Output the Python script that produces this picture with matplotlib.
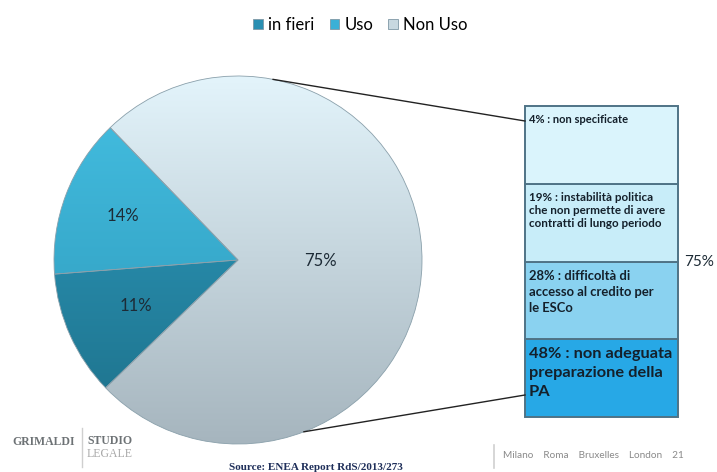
import matplotlib.pyplot as plt
import numpy as np
from matplotlib.colors import LinearSegmentedColormap

# pie data
pie_labels = ["in fieri", "Uso", "Non Uso"]
pie_values = [11, 14, 75]
pie_top_colors = ["#2f9fc4", "#45c0e3", "#e3f4fb"]
pie_bottom_colors = ["#1d7089", "#2b95b6", "#a6b5be"]

# breakdown of "Non Uso" (drawn as equal boxes, as in the original)
box_values = [48, 28, 19, 4]
box_texts = ["48% : non adeguata\npreparazione della\nPA",
             "28% : difficoltà di\naccesso al credito per\nle ESCo",
             "19% : instabilità politica\nche non permette di avere\ncontratti di lungo periodo",
             "4% : non specificate"]
box_colors = ["#27a8e6", "#8ad2f0", "#c8edf9", "#daf4fc"]
box_fontsizes = [11.8, 9.4, 8.4, 8.0]
box_linespacing = [1.45, 1.4, 1.22, 1.0]
box_total_label = "75%"

W, H = 717, 472
fig = plt.figure(figsize=(W / 100, H / 100), dpi=100)
fig.patch.set_facecolor("white")
ax = fig.add_axes([0, 0, 1, 1])
plt.rcParams["font.family"] = ["Lato", "DejaVu Sans"]

# ---- pie ----
cx, cy, r = 238, H - 260, 184
wedges, texts = ax.pie(pie_values, startangle=224, counterclock=False,
                       center=(cx, cy), radius=r,
                       wedgeprops=dict(edgecolor="#8aa0ab", linewidth=0.6))
for w, c0, c1 in zip(wedges, pie_top_colors, pie_bottom_colors):
    cmap = LinearSegmentedColormap.from_list("g", [c1, c0])
    grad = np.linspace(0, 1, 256).reshape(-1, 1)
    im = ax.imshow(grad, cmap=cmap, origin="lower", aspect="auto",
                   extent=(cx - r, cx + r, cy - r, cy + r), zorder=1)
    im.set_clip_path(w)
    w.set_facecolor("none")
    w.set_zorder(2)

label_dist = [0.61, 0.67, 0.45]
for w, v, d in zip(wedges, pie_values, label_dist):
    mid = np.deg2rad((w.theta1 + w.theta2) / 2)
    ax.text(cx + d * r * np.cos(mid), cy + d * r * np.sin(mid), f"{v}%",
            ha="center", va="center", fontsize=12, color="#1d2b36", zorder=5)

# ---- stacked box ----
bx0, bx1 = 525, 678
by0, by1 = H - 417, H - 106
seg_h = (by1 - by0) / len(box_values)
for i, (col, txt, fs, ls) in enumerate(zip(box_colors, box_texts, box_fontsizes,
                                           box_linespacing)):
    bottom = by0 + i * seg_h
    ax.bar((bx0 + bx1) / 2, seg_h, width=bx1 - bx0, bottom=bottom,
           color=col, edgecolor="#4f7386", linewidth=1.4, zorder=3)
    ax.text(bx0 + 4, bottom + seg_h - 8, txt, ha="left", va="top",
            fontsize=fs, fontweight="bold", color="#14202b",
            linespacing=ls, zorder=5)
ax.text(bx1 + 6, (by0 + by1) / 2, box_total_label, ha="left", va="center",
        fontsize=11, color="#1d2b36")

# connector lines from pie edge to box
a_top, a_bot = np.deg2rad(79), np.deg2rad(-69)
ax.plot([cx + r * np.cos(a_top), bx0], [cy + r * np.sin(a_top), H - 121],
        color="#222222", linewidth=1.0, zorder=4)
ax.plot([cx + r * np.cos(a_bot), bx0], [cy + r * np.sin(a_bot), H - 395],
        color="#222222", linewidth=1.0, zorder=4)

# legend
leg = ax.legend(wedges, pie_labels, loc="upper center", ncol=3,
                bbox_to_anchor=(0.503, 0.995), frameon=False, fontsize=12,
                handlelength=0.55, handleheight=0.55, handletextpad=0.35,
                columnspacing=0.9)
for h, c in zip(leg.legend_handles, ["#2a8fb2", "#3bb0d6", "#c8d8e0"]):
    h.set_facecolor(c)
    h.set_edgecolor("#7f98a5")

# footer
ax.text(12, H - 442, "GRIMALDI", family="Liberation Serif", fontsize=8.5,
        fontweight="bold", color="#6d7275", va="center")
ax.plot([82, 82], [H - 428, H - 467], color="#cfcfcf", linewidth=1)
ax.text(87, H - 441, "STUDIO", family="Liberation Serif", fontsize=8.5,
        fontweight="bold", color="#6d7275", va="center")
ax.text(87, H - 454, "LEGALE", family="Liberation Serif", fontsize=8.5,
        color="#a8a8a8", va="center")
ax.text(316, H - 468, "Source: ENEA Report RdS/2013/273", family="Liberation Serif",
        fontsize=8, fontweight="bold", color="#1f2f5a", ha="center", va="center")
ax.plot([494, 494], [H - 445, H - 468], color="#d0d0d0", linewidth=1.2)
ax.text(503, H - 456, "Milano    Roma    Bruxelles    London    21",
        fontsize=7.2, color="#8a8a8a", va="center")

ax.set_xlim(0, W)
ax.set_ylim(0, H)
ax.set_aspect("auto")
ax.axis("off")

plt.savefig("out.png", dpi=100, facecolor="white")
